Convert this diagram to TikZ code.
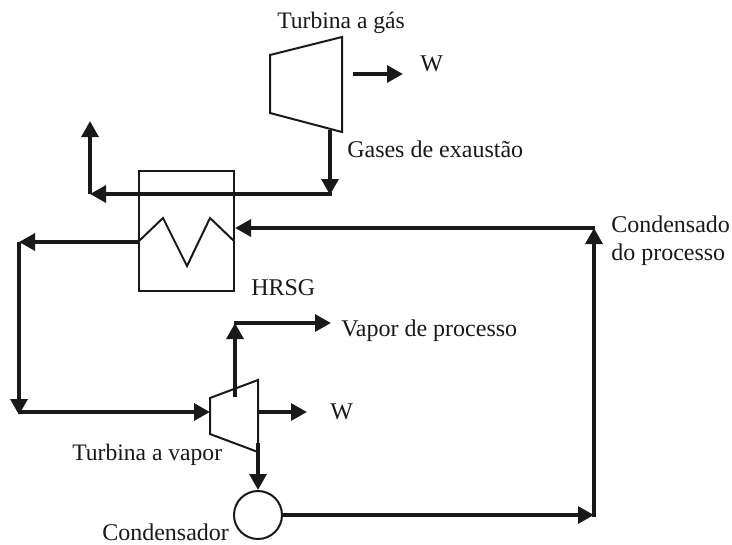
\documentclass[tikz,border=0pt]{standalone}
\usepackage{fontspec}
\setmainfont{Liberation Serif}
\usetikzlibrary{arrows.meta}
\tikzset{
  x=0.75pt,y=-0.75pt,
  eq/.style={draw=black!90,line width=1.5pt,line join=miter},
  flow/.style={draw=black!90,line width=3.4pt,-{Triangle[length=12pt,width=12.5pt]}},
  thinflow/.style={draw=black!90,line width=3pt,-{Triangle[length=12pt,width=12.5pt]}},
  lbl/.style={font=\fontsize{18}{21}\selectfont,text=black!90,inner sep=0pt,anchor=base west,align=left},
  lblb/.style={lbl,font=\fontsize{17.7}{21}\selectfont}
}
\begin{document}
\begin{tikzpicture}
\useasboundingbox (0,0) rectangle (732,544);
% equipment
\draw[eq] (270,55) -- (342,37) -- (342,132) -- (270,113) -- cycle;
\draw[eq] (139,171) rectangle (234,291);
\draw[eq] (139,241) -- (163,218) -- (187,266) -- (210,218) -- (234,241);
\draw[eq] (210,398) -- (258,380) -- (258,452) -- (210,434) -- cycle;
\node[draw=black!90,line width=1.5pt,circle,minimum size=36pt,inner sep=0pt] (cond) at (258,515) {};
% free coordinates
\coordinate (z1) at (139,242);
\coordinate (gtout) at (330,130);
\coordinate (j1) at (330,195);
\coordinate (j1b) at (331.5,194);
\coordinate (j2) at (90,194);
\coordinate (stack) at (90,121);
\coordinate (wg1) at (353,74);
\coordinate (wg2) at (403,74);
\coordinate (cp) at (594,228);
\coordinate (cpb) at (595,228);
\coordinate (hin) at (235,228);
\coordinate (j3) at (19,242);
\coordinate (j4) at (19,415);
\coordinate (j4b) at (19,412);
\coordinate (stin) at (210,412);
\coordinate (ex1) at (235,397);
\coordinate (ex2) at (235,323);
\coordinate (ex2b) at (233.5,323);
\coordinate (vp) at (331,323);
\coordinate (w1) at (258,412);
\coordinate (w2) at (307,412);
\coordinate (ex3) at (258,443);
\coordinate (cb) at (594,515);
\coordinate (cbb) at (594,517);
% connectors
\draw[flow] (gtout) -- (j1);
\draw[thinflow] (j1b) -- (j2);
\draw[flow] (j2) -- (stack);
\draw[flow] (wg1) -- (wg2);
\draw[thinflow] (cpb) -- (hin);
\draw[thinflow] (z1) -- (j3);
\draw[flow] (j3) -- (j4);
\draw[thinflow] (j4b) -- (stin);
\draw[flow] (ex1) -- (ex2);
\draw[thinflow] (ex2b) -- (vp);
\draw[flow] (w1) -- (w2);
\draw[flow] (ex3) -- (cond.north);
\draw[thinflow] (cond.east) -- (cb);
\draw[flow] (cbb) -- (cp);
% labels
\node[lblb] (t1) at (277,28) {Turbina a gás};
\node[lbl] (t2) at (420,71) {W};
\node[lbl] (t3) at (347,157) {Gases de exaustão};
\node[lbl] (t4) at (611,232) {Condensado};
\node[lbl] (t5) at (611,260) {do processo};
\node[lbl] (t6) at (251,295) {HRSG};
\node[lbl] (t7) at (341,336) {Vapor de processo};
\node[lbl] (t8) at (330,419) {W};
\node[lblb] (t9) at (72,460) {Turbina a vapor};
\node[lbl] (t10) at (102,540) {Condensador};
\end{tikzpicture}
\end{document}
